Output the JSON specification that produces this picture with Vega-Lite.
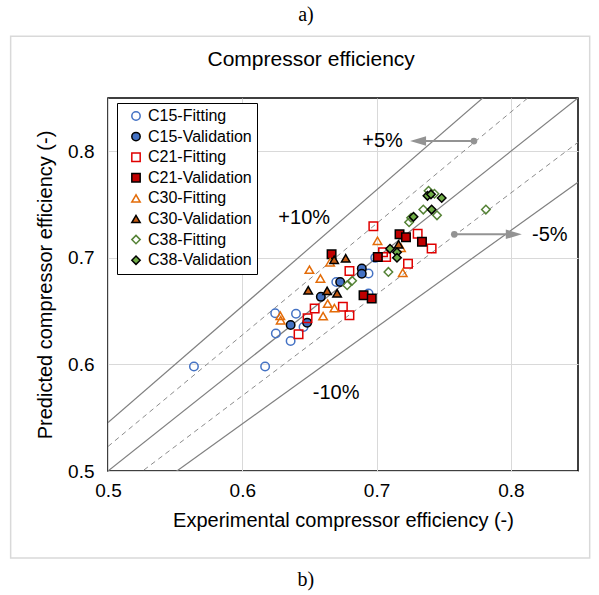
{
  "$schema": "https://vega.github.io/schema/vega-lite/v6.json",
  "width": 470,
  "height": 373,
  "autosize": "none",
  "padding": {"left": 108, "top": 98, "right": 21, "bottom": 124},
  "background": "white",
  "config": {
    "view": {"stroke": "black", "strokeWidth": 1.5},
    "axis": {"domain": false, "ticks": false, "grid": true, "gridColor": "#d9d9d9", "gridWidth": 1, "labelFont": "Liberation Sans", "labelFontSize": 19, "labelColor": "black", "labelFlush": false, "labelOverlap": false, "titleFont": "Liberation Sans", "titleFontSize": 20, "titleFontWeight": "normal", "titleColor": "black"}
  },
  "datasets": {
    "frame": [{"x": 0.4275, "x2": 0.8587, "y": 0.4184, "y2": 0.908}],
    "solid": [
      {"line": "p10", "x": 0.5, "y": 0.5455}, {"line": "p10", "x": 0.85, "y": 0.9274},
      {"line": "eq", "x": 0.5, "y": 0.5}, {"line": "eq", "x": 0.85, "y": 0.85},
      {"line": "m10", "x": 0.5, "y": 0.4535}, {"line": "m10", "x": 0.85, "y": 0.771}
    ],
    "dashed": [
      {"line": "p5", "x": 0.5, "y": 0.523}, {"line": "p5", "x": 0.85, "y": 0.8891},
      {"line": "m5", "x": 0.5, "y": 0.4755}, {"line": "m5", "x": 0.85, "y": 0.8084}
    ],
    "arrows": [
      {"a": "p5", "x": 0.7725, "y": 0.8096}, {"a": "p5", "x": 0.7309, "y": 0.8096},
      {"a": "m5", "x": 0.7579, "y": 0.7221}, {"a": "m5", "x": 0.8022, "y": 0.7221}
    ],
    "dots": [{"x": 0.7725, "y": 0.8096}, {"x": 0.7579, "y": 0.7221}],
    "headL": [{"x": 0.7309, "y": 0.8096}],
    "headR": [{"x": 0.8022, "y": 0.7221}],
    "notes": [
      {"label": "+10%", "x": 0.6461, "y": 0.7371},
      {"label": "-10%", "x": 0.6699, "y": 0.5731},
      {"label": "+5%", "x": 0.7045, "y": 0.8096},
      {"label": "-5%", "x": 0.829, "y": 0.7216}
    ],
    "heading": [{"label": "Compressor efficiency", "x": 0.6513, "y": 0.8856}],
    "panel": [
      {"label": "a)", "x": 0.6474, "y": 0.9278},
      {"label": "b)", "x": 0.6474, "y": 0.3978}
    ],
    "points": [
      {"series": "C15-Fitting", "exp": 0.564, "pred": 0.598},
      {"series": "C15-Fitting", "exp": 0.617, "pred": 0.598},
      {"series": "C15-Fitting", "exp": 0.6245, "pred": 0.648},
      {"series": "C15-Fitting", "exp": 0.640, "pred": 0.6476},
      {"series": "C15-Fitting", "exp": 0.625, "pred": 0.629},
      {"series": "C15-Fitting", "exp": 0.636, "pred": 0.622},
      {"series": "C15-Fitting", "exp": 0.6456, "pred": 0.6352},
      {"series": "C15-Fitting", "exp": 0.670, "pred": 0.6774},
      {"series": "C15-Fitting", "exp": 0.694, "pred": 0.6853},
      {"series": "C15-Fitting", "exp": 0.699, "pred": 0.700},
      {"series": "C15-Fitting", "exp": 0.694, "pred": 0.6665},
      {"series": "C15-Validation", "exp": 0.636, "pred": 0.637},
      {"series": "C15-Validation", "exp": 0.6483, "pred": 0.6392},
      {"series": "C15-Validation", "exp": 0.6585, "pred": 0.6634},
      {"series": "C15-Validation", "exp": 0.6729, "pred": 0.6774},
      {"series": "C15-Validation", "exp": 0.689, "pred": 0.690},
      {"series": "C15-Validation", "exp": 0.689, "pred": 0.685},
      {"series": "C21-Fitting", "exp": 0.6419, "pred": 0.6283},
      {"series": "C21-Fitting", "exp": 0.6486, "pred": 0.6434},
      {"series": "C21-Fitting", "exp": 0.6539, "pred": 0.6525},
      {"series": "C21-Fitting", "exp": 0.6749, "pred": 0.6542},
      {"series": "C21-Fitting", "exp": 0.6798, "pred": 0.6462},
      {"series": "C21-Fitting", "exp": 0.6798, "pred": 0.6877},
      {"series": "C21-Fitting", "exp": 0.6976, "pred": 0.7296},
      {"series": "C21-Fitting", "exp": 0.7048, "pred": 0.7052},
      {"series": "C21-Fitting", "exp": 0.7071, "pred": 0.7008},
      {"series": "C21-Fitting", "exp": 0.7234, "pred": 0.6945},
      {"series": "C21-Fitting", "exp": 0.7306, "pred": 0.7226},
      {"series": "C21-Fitting", "exp": 0.741, "pred": 0.7087},
      {"series": "C21-Validation", "exp": 0.6665, "pred": 0.7034},
      {"series": "C21-Validation", "exp": 0.7009, "pred": 0.7008},
      {"series": "C21-Validation", "exp": 0.7171, "pred": 0.7221},
      {"series": "C21-Validation", "exp": 0.7219, "pred": 0.7193},
      {"series": "C21-Validation", "exp": 0.7338, "pred": 0.7151},
      {"series": "C21-Validation", "exp": 0.6903, "pred": 0.6649},
      {"series": "C21-Validation", "exp": 0.6964, "pred": 0.6619},
      {"series": "C30-Fitting", "exp": 0.6283, "pred": 0.6457},
      {"series": "C30-Fitting", "exp": 0.6286, "pred": 0.6415},
      {"series": "C30-Fitting", "exp": 0.65, "pred": 0.6889},
      {"series": "C30-Fitting", "exp": 0.6582, "pred": 0.6806},
      {"series": "C30-Fitting", "exp": 0.6654, "pred": 0.6959},
      {"series": "C30-Fitting", "exp": 0.6636, "pred": 0.657},
      {"series": "C30-Fitting", "exp": 0.6686, "pred": 0.6528},
      {"series": "C30-Fitting", "exp": 0.6602, "pred": 0.6453},
      {"series": "C30-Fitting", "exp": 0.7007, "pred": 0.716},
      {"series": "C30-Fitting", "exp": 0.7195, "pred": 0.686},
      {"series": "C30-Fitting", "exp": 0.7182, "pred": 0.7095},
      {"series": "C30-Validation", "exp": 0.6684, "pred": 0.6982},
      {"series": "C30-Validation", "exp": 0.677, "pred": 0.6996},
      {"series": "C30-Validation", "exp": 0.6491, "pred": 0.6696},
      {"series": "C30-Validation", "exp": 0.6632, "pred": 0.669},
      {"series": "C30-Validation", "exp": 0.6706, "pred": 0.6668},
      {"series": "C30-Validation", "exp": 0.7164, "pred": 0.7127},
      {"series": "C38-Fitting", "exp": 0.7387, "pred": 0.7629},
      {"series": "C38-Fitting", "exp": 0.7431, "pred": 0.7601},
      {"series": "C38-Fitting", "exp": 0.7348, "pred": 0.7453},
      {"series": "C38-Fitting", "exp": 0.745, "pred": 0.7399},
      {"series": "C38-Fitting", "exp": 0.7257, "pred": 0.7376},
      {"series": "C38-Fitting", "exp": 0.7242, "pred": 0.7334},
      {"series": "C38-Fitting", "exp": 0.7814, "pred": 0.7453},
      {"series": "C38-Fitting", "exp": 0.7088, "pred": 0.6868},
      {"series": "C38-Fitting", "exp": 0.6818, "pred": 0.6785},
      {"series": "C38-Fitting", "exp": 0.6781, "pred": 0.6743},
      {"series": "C38-Validation", "exp": 0.7379, "pred": 0.7582},
      {"series": "C38-Validation", "exp": 0.7405, "pred": 0.7596},
      {"series": "C38-Validation", "exp": 0.7485, "pred": 0.7561},
      {"series": "C38-Validation", "exp": 0.741, "pred": 0.7453},
      {"series": "C38-Validation", "exp": 0.7275, "pred": 0.7385},
      {"series": "C38-Validation", "exp": 0.71, "pred": 0.7085},
      {"series": "C38-Validation", "exp": 0.7152, "pred": 0.7052},
      {"series": "C38-Validation", "exp": 0.7152, "pred": 0.7001}
    ]
  },
  "layer": [
    {
      "data": {"name": "frame"},
      "mark": {"type": "rect", "fill": "transparent", "stroke": "#d9d9d9", "strokeWidth": 1.5, "clip": false},
      "encoding": {
        "x": {"field": "x", "type": "quantitative", "scale": {"domain": [0.5, 0.85], "nice": false, "zero": false}, "axis": {"values": [0.5, 0.6, 0.7, 0.8], "format": ".1f", "title": "Experimental compressor efficiency (-)", "labelPadding": 10, "titlePadding": 10}},
        "x2": {"field": "x2"},
        "y": {"field": "y", "type": "quantitative", "scale": {"domain": [0.5, 0.85], "nice": false, "zero": false}, "axis": {"values": [0.5, 0.6, 0.7, 0.8], "format": ".1f", "title": "Predicted compressor efficiency (-)", "labelPadding": 14, "titlePadding": 12}},
        "y2": {"field": "y2"}
      }
    },
    {
      "data": {"name": "solid"},
      "mark": {"type": "line", "color": "#808080", "strokeWidth": 1.2, "clip": true},
      "encoding": {
        "x": {"field": "x", "type": "quantitative", "scale": {"domain": [0.5, 0.85], "nice": false, "zero": false}},
        "y": {"field": "y", "type": "quantitative", "scale": {"domain": [0.5, 0.85], "nice": false, "zero": false}},
        "detail": {"field": "line"}
      }
    },
    {
      "data": {"name": "dashed"},
      "mark": {"type": "line", "color": "#8c8c8c", "strokeWidth": 1, "strokeDash": [5, 4], "clip": true},
      "encoding": {
        "x": {"field": "x", "type": "quantitative", "scale": {"domain": [0.5, 0.85], "nice": false, "zero": false}},
        "y": {"field": "y", "type": "quantitative", "scale": {"domain": [0.5, 0.85], "nice": false, "zero": false}},
        "detail": {"field": "line"}
      }
    },
    {
      "data": {"name": "arrows"},
      "mark": {"type": "line", "color": "#939393", "strokeWidth": 2},
      "encoding": {
        "x": {"field": "x", "type": "quantitative", "scale": {"domain": [0.5, 0.85], "nice": false, "zero": false}},
        "y": {"field": "y", "type": "quantitative", "scale": {"domain": [0.5, 0.85], "nice": false, "zero": false}},
        "detail": {"field": "a"}
      }
    },
    {
      "data": {"name": "dots"},
      "mark": {"type": "point", "shape": "circle", "filled": true, "color": "#939393", "size": 45, "opacity": 1},
      "encoding": {
        "x": {"field": "x", "type": "quantitative", "scale": {"domain": [0.5, 0.85], "nice": false, "zero": false}},
        "y": {"field": "y", "type": "quantitative", "scale": {"domain": [0.5, 0.85], "nice": false, "zero": false}}
      }
    },
    {
      "data": {"name": "headL"},
      "mark": {"type": "point", "shape": "M-1,0L1,-0.6L1,0.6Z", "filled": true, "color": "#939393", "size": 256, "opacity": 1},
      "encoding": {
        "x": {"field": "x", "type": "quantitative", "scale": {"domain": [0.5, 0.85], "nice": false, "zero": false}},
        "y": {"field": "y", "type": "quantitative", "scale": {"domain": [0.5, 0.85], "nice": false, "zero": false}}
      }
    },
    {
      "data": {"name": "headR"},
      "mark": {"type": "point", "shape": "M1,0L-1,-0.6L-1,0.6Z", "filled": true, "color": "#939393", "size": 256, "opacity": 1},
      "encoding": {
        "x": {"field": "x", "type": "quantitative", "scale": {"domain": [0.5, 0.85], "nice": false, "zero": false}},
        "y": {"field": "y", "type": "quantitative", "scale": {"domain": [0.5, 0.85], "nice": false, "zero": false}}
      }
    },
    {
      "data": {"name": "notes"},
      "mark": {"type": "text", "font": "Liberation Sans", "fontSize": 20, "color": "black", "align": "center", "baseline": "middle"},
      "encoding": {
        "x": {"field": "x", "type": "quantitative", "scale": {"domain": [0.5, 0.85], "nice": false, "zero": false}},
        "y": {"field": "y", "type": "quantitative", "scale": {"domain": [0.5, 0.85], "nice": false, "zero": false}},
        "text": {"field": "label"}
      }
    },
    {
      "data": {"name": "heading"},
      "mark": {"type": "text", "font": "Liberation Sans", "fontSize": 21, "color": "black", "align": "center", "baseline": "middle", "clip": false},
      "encoding": {
        "x": {"field": "x", "type": "quantitative", "scale": {"domain": [0.5, 0.85], "nice": false, "zero": false}},
        "y": {"field": "y", "type": "quantitative", "scale": {"domain": [0.5, 0.85], "nice": false, "zero": false}},
        "text": {"field": "label"}
      }
    },
    {
      "data": {"name": "panel"},
      "mark": {"type": "text", "font": "Liberation Serif", "fontSize": 20, "color": "black", "align": "center", "baseline": "middle", "clip": false},
      "encoding": {
        "x": {"field": "x", "type": "quantitative", "scale": {"domain": [0.5, 0.85], "nice": false, "zero": false}},
        "y": {"field": "y", "type": "quantitative", "scale": {"domain": [0.5, 0.85], "nice": false, "zero": false}},
        "text": {"field": "label"}
      }
    },
    {
      "data": {"name": "points"},
      "mark": {"type": "point", "filled": true, "size": 72, "strokeWidth": 1.5, "opacity": 1},
      "encoding": {
        "x": {"field": "exp", "type": "quantitative", "scale": {"domain": [0.5, 0.85], "nice": false, "zero": false}},
        "y": {"field": "pred", "type": "quantitative", "scale": {"domain": [0.5, 0.85], "nice": false, "zero": false}},
        "shape": {"field": "series", "type": "nominal", "title": null,
          "scale": {"domain": ["C15-Fitting", "C15-Validation", "C21-Fitting", "C21-Validation", "C30-Fitting", "C30-Validation", "C38-Fitting", "C38-Validation"], "range": ["circle", "circle", "square", "square", "triangle-up", "triangle-up", "diamond", "diamond"]},
          "legend": {"orient": "none", "legendX": 9, "legendY": 5, "strokeColor": "black", "fillColor": "white", "padding": 5, "symbolOffset": 6, "labelFont": "Liberation Sans", "labelFontSize": 16, "labelColor": "black", "rowPadding": 4.6, "labelOffset": 4, "symbolSize": 70, "symbolStrokeWidth": 1.5, "labelLimit": 300, "labelExpr": "datum.label + '  '"}},
        "fill": {"field": "series", "type": "nominal", "title": null,
          "scale": {"domain": ["C15-Fitting", "C15-Validation", "C21-Fitting", "C21-Validation", "C30-Fitting", "C30-Validation", "C38-Fitting", "C38-Validation"], "range": ["transparent", "#4472C4", "transparent", "#C00000", "transparent", "#C55A11", "transparent", "#70AD47"]},
          "legend": {"orient": "none", "legendX": 9, "legendY": 5, "strokeColor": "black", "fillColor": "white", "padding": 5, "symbolOffset": 6, "labelFont": "Liberation Sans", "labelFontSize": 16, "labelColor": "black", "rowPadding": 4.6, "labelOffset": 4, "symbolSize": 70, "symbolStrokeWidth": 1.5, "labelLimit": 300, "labelExpr": "datum.label + '  '"}},
        "stroke": {"field": "series", "type": "nominal", "title": null,
          "scale": {"domain": ["C15-Fitting", "C15-Validation", "C21-Fitting", "C21-Validation", "C30-Fitting", "C30-Validation", "C38-Fitting", "C38-Validation"], "range": ["#4472C4", "#000000", "#E00000", "#000000", "#E36C09", "#000000", "#548235", "#000000"]},
          "legend": {"orient": "none", "legendX": 9, "legendY": 5, "strokeColor": "black", "fillColor": "white", "padding": 5, "symbolOffset": 6, "labelFont": "Liberation Sans", "labelFontSize": 16, "labelColor": "black", "rowPadding": 4.6, "labelOffset": 4, "symbolSize": 70, "symbolStrokeWidth": 1.5, "labelLimit": 300, "labelExpr": "datum.label + '  '"}}
      }
    }
  ]
}
